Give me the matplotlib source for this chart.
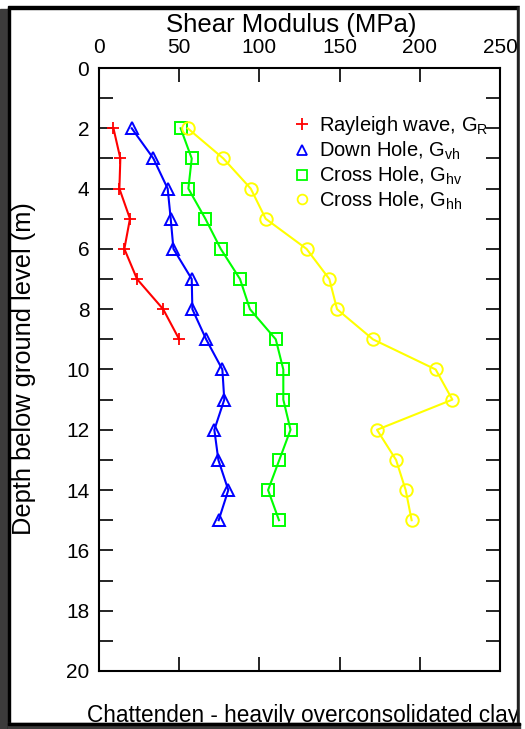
import matplotlib.pyplot as plt
from matplotlib.lines import Line2D
from matplotlib.patches import Rectangle

plt.rcParams['font.family'] = ['Liberation Sans', 'DejaVu Sans']
plt.rcParams['mathtext.fontset'] = 'custom'
plt.rcParams['mathtext.rm'] = 'Liberation Sans'
plt.rcParams['mathtext.it'] = 'Liberation Sans:italic'

# depth (m) and shear modulus (MPa) per test method
depth_r = [2, 3, 4, 5, 6, 7, 8, 9]
g_rayleigh = [9, 13.3, 12.7, 19.3, 15.8, 23.7, 40, 50]

depth_h = [2, 3, 4, 5, 6, 7, 8, 9, 10, 11, 12, 13, 14, 15]
g_vh = [20.4, 33.9, 42.8, 44.7, 46.4, 57.8, 58.2, 66.8, 76.9, 78.1, 71.9, 74.4, 80.6, 74.6]
g_hv = [50.9, 57.8, 55.7, 66.3, 75.9, 87.9, 94.1, 110.2, 114.9, 114.9, 119.4, 112.4, 105.4, 112.2]
g_hh = [55.3, 77.5, 94.6, 103.9, 129.4, 143.6, 148.4, 170.8, 209.9, 220.3, 173.3, 185.2, 191.2, 194.9]

labels = [r'Rayleigh wave, G$_\mathrm{R}$', r'Down Hole, G$_\mathrm{vh}$',
          r'Cross Hole, G$_\mathrm{hv}$', r'Cross Hole, G$_\mathrm{hh}$']

fig = plt.figure(figsize=(5.25, 7.29), dpi=100)
ax = fig.add_axes([0.1886, 0.0796, 0.7638, 0.8271])

ax.plot(g_rayleigh, depth_r, color='red', marker='+', ms=9, mew=1.3, lw=1.5)
ax.plot(g_vh, depth_h, color='blue', marker='^', ms=8.5, mfc='none', mew=1.4, lw=1.5)
ax.plot(g_hv, depth_h, color='#00ff00', marker='s', ms=8, mfc='none', mew=1.4, lw=1.5)
ax.plot(g_hh, depth_h, color='yellow', marker='o', ms=9, mfc='none', mew=1.4, lw=1.5)

ax.set_xlim(0, 250)
ax.set_ylim(20, 0)
ax.set_xticks([0, 50, 100, 150, 200, 250])
ax.set_yticks(range(0, 21, 2))
ax.set_yticks(range(1, 20, 2), minor=True)
ax.xaxis.tick_top()
ax.tick_params(which='both', direction='in', top=True, bottom=True, left=True, right=True,
               labeltop=True, labelbottom=False, length=10, width=1.2, labelsize=15)
ax.tick_params(axis='x', pad=8)
ax.tick_params(axis='y', pad=7)
for s in ax.spines.values():
    s.set_linewidth(1.5)

handles = [
    Line2D([], [], color='red', marker='+', ms=9, mew=1.3, ls='none'),
    Line2D([], [], color='blue', marker='^', ms=7, mfc='none', mew=1.3, ls='none'),
    Line2D([], [], color='#00ff00', marker='s', ms=7, mfc='none', mew=1.3, ls='none'),
    Line2D([], [], color='yellow', marker='o', ms=7, mfc='none', mew=1.3, ls='none'),
]
ax.legend(handles, labels, loc='upper left', bbox_to_anchor=(0.44, 0.953), frameon=False,
          fontsize=14.5, handlelength=0.8, handletextpad=0.45, labelspacing=0.12)

fig.text(0.554, 0.966, 'Shear Modulus (MPa)', ha='center', va='center', fontsize=18.5)
fig.text(0.046, 0.495, 'Depth below ground level (m)', ha='center', va='center',
         rotation=90, fontsize=18.3)
fig.text(0.166, 0.019, 'Chattenden - heavily overconsolidated clay', ha='left',
         va='center', fontsize=16.3)

# page border
W, H = 525, 729
fig.patches.append(Rectangle((0, 0), 8 / W, 1 - 9 / H, transform=fig.transFigure,
                             color='#3c3b3b', zorder=10))
fig.patches.append(Rectangle((8 / W, 1 - 9 / H), 512 / W, 2.5 / H, transform=fig.transFigure,
                             color='black', zorder=10))
fig.patches.append(Rectangle((8 / W, 0), 1.5 / W, 1 - 8 / H, transform=fig.transFigure,
                             color='black', zorder=10))
fig.patches.append(Rectangle((516.5 / W, 0), 3.5 / W, 1 - 7 / H, transform=fig.transFigure,
                             color='#202020', zorder=10))
fig.patches.append(Rectangle((520 / W, 0), 5 / W, 1, transform=fig.transFigure,
                             color='white', zorder=10))
fig.patches.append(Rectangle((8 / W, 0), 512 / W, 6 / H, transform=fig.transFigure,
                             color='#3c3b3b', zorder=10))
fig.patches.append(Rectangle((8 / W, 4 / H), 512 / W, 2 / H, transform=fig.transFigure,
                             color='black', zorder=10))

fig.savefig('out.png', dpi=100)
